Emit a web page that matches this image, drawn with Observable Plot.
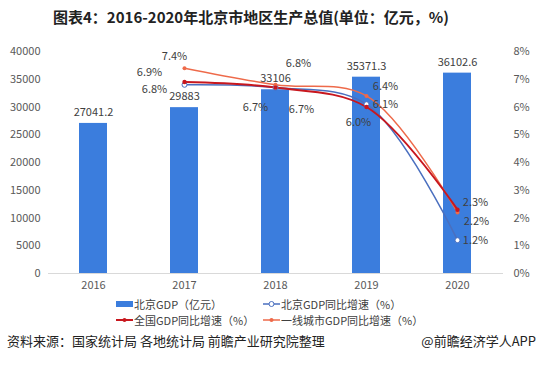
<!DOCTYPE html>
<html><head><meta charset="utf-8">
<script src="https://cdn.jsdelivr.net/npm/d3@7"></script>
<script src="https://cdn.jsdelivr.net/npm/@observablehq/plot@0.6"></script>
<style>
body{margin:0;width:536px;height:368px;background:#fff;position:relative;font-family:"Noto Sans CJK SC","Noto Sans",sans-serif;overflow:hidden}
#title{position:absolute;top:6px;left:0;width:502px;text-align:center;font-size:15px;font-weight:bold;color:#222}
#chart{position:absolute;top:34px;left:0}
.leg{position:absolute;font-size:11px;color:#404040;display:flex;align-items:center;white-space:nowrap}
.leg svg{margin-right:1px}
#src{position:absolute;top:331px;left:7px;font-size:13px;color:#222}
#app{position:absolute;top:331px;right:0;font-size:13px;color:#222}
</style></head><body>
<div id="title">图表4：2016-2020年北京市地区生产总值(单位：亿元，%)</div>
<div id="chart"></div>
<div class="leg" style="top:296px;left:116px"><svg width="17" height="12"><rect x="0" y="3" width="17" height="6" fill="#3b7ddd"/></svg>北京GDP（亿元）</div>
<div class="leg" style="top:296px;left:263px"><svg width="17" height="12"><line x1="0" y1="6" x2="17" y2="6" stroke="#4a6fbf" stroke-width="1.5"/><circle cx="8.5" cy="6" r="2.5" fill="#fff" stroke="#4a6fbf"/></svg>北京GDP同比增速（%）</div>
<div class="leg" style="top:312px;left:116px"><svg width="17" height="12"><line x1="0" y1="6" x2="17" y2="6" stroke="#c8171e" stroke-width="2"/><circle cx="8.5" cy="6" r="2" fill="#c8171e"/></svg>全国GDP同比增速（%）</div>
<div class="leg" style="top:312px;left:263px"><svg width="17" height="12"><line x1="0" y1="6" x2="17" y2="6" stroke="#ee6a4a" stroke-width="1.5"/><circle cx="8.5" cy="6" r="2" fill="#ee6a4a"/></svg>一线城市GDP同比增速（%）</div>
<div id="src">资料来源：国家统计局 各地统计局 前瞻产业研究院整理</div>
<div id="app">@前瞻经济学人APP</div>
<script>
const years = ["2016","2017","2018","2019","2020"];
const gdp = [27041.2, 29883, 33106, 35371.3, 36102.6];
const gdpLabels = ["27041.2","29883","33106","35371.3","36102.6"];
const lineYears = ["2017","2018","2019","2020"];
const bjGrowth = [6.8, 6.7, 6.1, 1.2];
const cnGrowth = [6.9, 6.7, 6.0, 2.3];
const t1Growth = [7.4, 6.8, 6.4, 2.2];
const leftTicks = [0,5000,10000,15000,20000,25000,30000,35000,40000];
const rightTicks = [0,1,2,3,4,5,6,7,8];

const k = 5000; // 1% on the right axis = 5000 on the left axis
const bars = years.map((y,i)=>({year:y, v:gdp[i], label:gdpLabels[i]}));
const mk = (vals, name) => lineYears.map((y,i)=>({year:y, p:vals[i], s:name}));
const bj = mk(bjGrowth,"bj"), cn = mk(cnGrowth,"cn"), t1 = mk(t1Growth,"t1");

// label offsets (style only)
const off = {
  t1:[[-10,-12],[23,-21],[19,-9],[19,9]],
  cn:[[-35,-10],[-20,20],[-8,15],[18,-7]],
  bj:[[-30,5],[26,22],[19,0],[18,0]]
};
const series = {bj, cn, t1};
const labelMarks = [];
for (const s of ["bj","cn","t1"]) {
  series[s].forEach((d,i)=>{
    labelMarks.push(Plot.text([d],{x:"year",y:d=>d.p*k,text:d=>d.p.toFixed(1)+"%",dx:off[s][i][0],dy:off[s][i][1],fontSize:11,fill:"#404040"}));
  });
}
const font = '"Noto Sans CJK SC","Noto Sans",sans-serif';
const chart = Plot.plot({
  width:536, height:262,
  marginTop:17, marginBottom:23, marginLeft:48, marginRight:33,
  style:{fontFamily:font, fontSize:"11px", color:"#595959", background:"transparent"},
  x:{type:"band", domain:years, paddingInner:0.69, paddingOuter:0.345},
  y:{domain:[0,40000]},
  marks:[
    Plot.axisY({anchor:"left", ticks:leftTicks, tickFormat:d=>String(d), tickSize:0, tickPadding:8, label:null, fontSize:11}),
    Plot.axisY({anchor:"right", ticks:rightTicks.map(t=>t*k), tickFormat:d=>(d/k)+"%", tickSize:0, tickPadding:10, label:null, fontSize:11}),
    Plot.axisX({tickSize:0, tickPadding:8, label:null, fontSize:11}),
    Plot.ruleY([0],{stroke:"#d9d9d9"}),
    Plot.barY(bars,{x:"year", y:"v", fill:"#3b7ddd"}),
    Plot.text(bars,{x:"year", y:"v", text:"label", dy:-11, fontSize:11, fill:"#404040"}),
    Plot.line(bj,{x:"year", y:d=>d.p*k, stroke:"#4a6fbf", strokeWidth:1.5, curve:"catmull-rom"}),
    Plot.line(t1,{x:"year", y:d=>d.p*k, stroke:"#ee6a4a", strokeWidth:1.5, curve:"catmull-rom"}),
    Plot.line(cn,{x:"year", y:d=>d.p*k, stroke:"#c8171e", strokeWidth:2, curve:"catmull-rom"}),
    Plot.dot(bj,{x:"year", y:d=>d.p*k, r:2.5, fill:"#fff", stroke:"#4a6fbf", strokeWidth:1}),
    Plot.dot(t1,{x:"year", y:d=>d.p*k, r:2, fill:"#ee6a4a"}),
    Plot.dot(cn,{x:"year", y:d=>d.p*k, r:2.2, fill:"#c8171e"}),
    ...labelMarks
  ]
});
document.getElementById("chart").appendChild(chart);
</script>
</body></html>
